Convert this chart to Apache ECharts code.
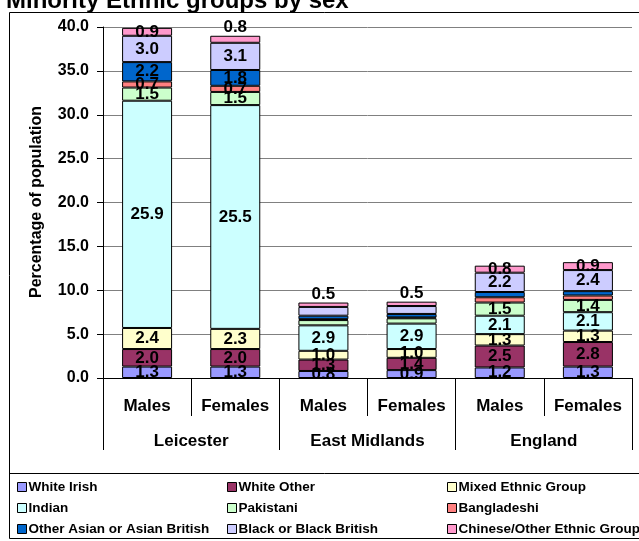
<!DOCTYPE html>
<html>
<head>
<meta charset="utf-8">
<script src="https://cdn.jsdelivr.net/npm/echarts@6/dist/echarts.min.js"></script>
<style>
  html, body { margin: 0; padding: 0; background: #fff; }
  #main { width: 639px; height: 541px; }
</style>
</head>
<body>
<div id="main"></div>
<script>
// categories
const subCats = ['Males', 'Females', 'Males', 'Females', 'Males', 'Females'];
const groups = ['Leicester', 'East Midlands', 'England'];

// series values (% of population), per bar
const whiteIrish  = [1.3, 1.3, 0.8, 0.9, 1.2, 1.3];
const whiteOther  = [2.0, 2.0, 1.3, 1.4, 2.5, 2.8];
const mixed       = [2.4, 2.3, 1.0, 1.0, 1.3, 1.3];
const indian      = [25.9, 25.5, 2.9, 2.9, 2.1, 2.1];
const pakistani   = [1.5, 1.5, 0.6, 0.6, 1.5, 1.4];
const bangladeshi = [0.7, 0.7, 0.1, 0.1, 0.6, 0.5];
const otherAsian  = [2.2, 1.8, 0.4, 0.4, 0.6, 0.5];
const black       = [3.0, 3.1, 1.0, 0.9, 2.2, 2.4];
const chinese     = [0.9, 0.8, 0.5, 0.5, 0.8, 0.9];

// which bars have no value label, and which have it above the bar
const noLabel = {
  'Pakistani': [2, 3],
  'Bangladeshi': [2, 3, 4, 5],
  'Other Asian or Asian British': [2, 3, 4, 5],
  'Black or Black British': [2, 3]
};
const labelAbove = { 'Chinese/Other Ethnic Group': [1, 2, 3] };

const seriesDefs = [
  ['White Irish', whiteIrish, '#9999FF'],
  ['White Other', whiteOther, '#993366'],
  ['Mixed Ethnic Group', mixed, '#FFFFCC'],
  ['Indian', indian, '#CCFFFF'],
  ['Pakistani', pakistani, '#CCFFCC'],
  ['Bangladeshi', bangladeshi, '#FF8080'],
  ['Other Asian or Asian British', otherAsian, '#0066CC'],
  ['Black or Black British', black, '#CCCCFF'],
  ['Chinese/Other Ethnic Group', chinese, '#FF99CC']
];

const FONT = 'Liberation Sans, Arial, sans-serif';

let series = seriesDefs.map(([name, vals, color]) => ({
  name: name,
  type: 'bar',
  stack: 'all',
  barWidth: 50,
  itemStyle: { color: color, borderColor: '#000', borderWidth: 1 },
  label: {
    show: true, position: 'inside', color: '#000',
    fontFamily: FONT, fontWeight: 'bold', fontSize: 17,
    formatter: p => p.value.toFixed(1)
  },
  data: vals.map((v, i) => {
    if ((noLabel[name] || []).includes(i)) return { value: v, label: { show: false } };
    if ((labelAbove[name] || []).includes(i)) return { value: v, label: { position: 'top', distance: 0 } };
    return v;
  })
}));

let myChart = echarts.init(document.getElementById('main'));

const legendStyle = {
  orient: 'vertical',
  top: 480,
  padding: 0,
  itemWidth: 9,
  itemHeight: 9,
  itemGap: 7,
  icon: 'rect',
  itemStyle: { borderColor: '#000', borderWidth: 1 },
  textStyle: { fontFamily: FONT, fontWeight: 'bold', fontSize: 13.5, color: '#000', padding: [0, 0, 0, -3] }
};

let options = {
  animation: false,
  title: {
    text: 'Minority Ethnic groups by sex',
    left: 1, top: -16,
    textStyle: { fontFamily: FONT, fontWeight: 'bold', fontSize: 24, color: '#000' }
  },
  legend: [
    Object.assign({ left: 17, data: ['White Irish', 'Indian', 'Other Asian or Asian British'] }, legendStyle),
    Object.assign({ left: 227, data: ['White Other', 'Pakistani', 'Black or Black British'] }, legendStyle),
    Object.assign({ left: 447, data: ['Mixed Ethnic Group', 'Bangladeshi', 'Chinese/Other Ethnic Group'] }, legendStyle)
  ],
  grid: { left: 103, right: 7, top: 27, bottom: 163, containLabel: false },
  xAxis: [
    {
      type: 'category',
      data: subCats,
      position: 'bottom',
      axisLine: { lineStyle: { color: '#000', width: 1 } },
      axisTick: { show: true, interval: 0, length: 38, lineStyle: { color: '#000' } },
      axisLabel: { interval: 0, margin: 20, color: '#000', fontFamily: FONT, fontWeight: 'bold', fontSize: 17 }
    },
    {
      type: 'category',
      data: groups,
      position: 'bottom',
      offset: 38,
      axisLine: { show: false },
      axisTick: { show: true, interval: 0, length: 34, lineStyle: { color: '#000' } },
      axisLabel: { interval: 0, margin: 17, color: '#000', fontFamily: FONT, fontWeight: 'bold', fontSize: 17 }
    }
  ],
  yAxis: {
    type: 'value',
    min: 0, max: 40, interval: 5,
    axisLine: { show: true, lineStyle: { color: '#000' } },
    axisTick: { show: true, length: 6, lineStyle: { color: '#000' } },
    splitLine: { lineStyle: { color: '#808080', width: 1 } },
    axisLabel: {
      margin: 14, color: '#000', fontFamily: FONT, fontWeight: 'bold', fontSize: 16,
      formatter: v => v.toFixed(1)
    }
  },
  graphic: [
    { type: 'rect', shape: { x: 9.5, y: 12.5, width: 640, height: 526 }, style: { fill: 'none', stroke: '#000', lineWidth: 1 }, silent: true },
    { type: 'line', shape: { x1: 9.5, y1: 473.5, x2: 639, y2: 473.5 }, style: { stroke: '#000', lineWidth: 1 }, silent: true },
    {
      type: 'text', x: 37, y: 202, rotation: Math.PI / 2,
      style: {
        text: 'Percentage of population', fill: '#000',
        font: 'bold 16px ' + FONT, align: 'center', verticalAlign: 'middle'
      }
    }
  ],
  series: series
};
myChart.setOption(options, true);
</script>
</body>
</html>
